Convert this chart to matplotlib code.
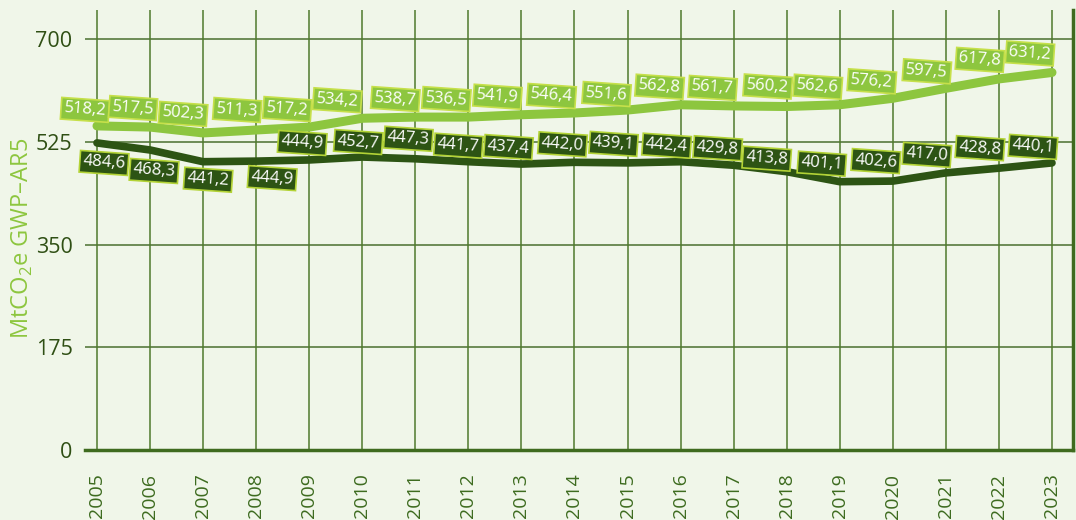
import matplotlib.pyplot as plt

plt.rcParams['font.family'] = ['Open Sans', 'DejaVu Sans']
plt.rcParams['mathtext.fontset'] = 'custom'
plt.rcParams['mathtext.rm'] = 'Open Sans'

years = list(range(2005, 2024))
# line values (MtCO2e) as drawn
light_vals = [552, 550, 540, 545, 550, 565, 567, 567, 571, 574, 579, 588, 586, 585, 588, 599, 616, 632, 643]
dark_vals = [523, 511, 491, 492, 494, 499, 496, 491, 487, 490, 489, 491, 485, 474, 457, 458, 472, 480, 489]
# printed labels
light_labels = ["518,2", "517,5", "502,3", "511,3", "517,2", "534,2", "538,7", "536,5", "541,9", "546,4",
                "551,6", "562,8", "561,7", "560,2", "562,6", "576,2", "597,5", "617,8", "631,2"]
dark_labels = ["484,6", "468,3", "441,2", "444,9", "444,9", "452,7", "447,3", "441,7", "437,4", "442,0",
               "439,1", "442,4", "429,8", "413,8", "401,1", "402,6", "417,0", "428,8", "440,1"]

# label offsets in pixels from each point
light_dx = [-12, -17, -20, -19, -22, -25, -20, -22, -24, -23, -21, -21, -21, -19, -22, -21, -19, -19, -22]
light_dy = [16, 19, 19, 20, 18, 18, 18, 18, 18, 17, 16, 18, 18, 20, 18, 17, 17, 19, 19]
dark_dx = [7, 4, 5, 16, -7, -4, -7, -10, -13, -12, -14, -14, -16, -20, -18, -17, -19, -19, -19]
dark_dy = [-20, -21, -18, -17, 17, 15, 20, 16, 17, 18, 19, 16, 17, 13, 18, 20, 18, 20, 16]

LIGHT = '#8dc63f'
DARK = '#2d5414'
GRID = '#4f7a2c'
BG = '#f0f6e9'

fig = plt.figure(figsize=(10.76, 5.2), dpi=100, facecolor=BG)
ax = fig.add_axes([85 / 1076, 70 / 520, 988 / 1076, 440 / 520], facecolor=BG)

ax.set_xlim(2004.774, 2023.396)
ax.set_ylim(0, 749.4)

for y in [175, 350, 525, 700]:
    ax.axhline(y, color='#6d8c56', lw=1.4, zorder=1)
for x in years:
    ax.axvline(x, color=GRID, lw=1.1, zorder=1)

ax.plot(years, light_vals, color=LIGHT, lw=6.5, solid_capstyle='round', solid_joinstyle='round', zorder=3)
ax.plot(years, dark_vals, color=DARK, lw=5.5, solid_capstyle='round', solid_joinstyle='round', zorder=3)

for x, v, t, dx, dy in zip(years, light_vals, light_labels, light_dx, light_dy):
    ax.annotate(t, (x, v), xytext=(dx, dy), textcoords='offset pixels', ha='center', va='center',
                fontsize=12, color='white', rotation=-4, zorder=5,
                bbox=dict(boxstyle='square,pad=0.17', fc=LIGHT, ec='#c6e04a', lw=1.2))
for x, v, t, dx, dy in zip(years, dark_vals, dark_labels, dark_dx, dark_dy):
    ax.annotate(t, (x, v), xytext=(dx, dy), textcoords='offset pixels', ha='center', va='center',
                fontsize=12, color='white', rotation=-4, zorder=5,
                bbox=dict(boxstyle='square,pad=0.17', fc=DARK, ec='#b3d336', lw=1.2))

for s in ['top', 'left']:
    ax.spines[s].set_visible(False)
ax.spines['bottom'].set_color('#3f6b1f')
ax.spines['bottom'].set_linewidth(2.5)
ax.spines['right'].set_color('#3f6b1f')
ax.spines['right'].set_linewidth(2.5)

ax.set_yticks([0, 175, 350, 525, 700])
ax.set_xticks(years)
ax.set_xticklabels([str(y) for y in years], rotation=90)
ax.tick_params(axis='y', length=0, pad=9, labelsize=15.5, labelcolor='#2f4f14')
ax.tick_params(axis='x', length=0, pad=17, labelsize=14, labelcolor='#3d6b1f')
for lab in ax.get_xticklabels():
    lab.set_verticalalignment('top')

ax.set_ylabel('MtCO$_2$e GWP–AR5', color=LIGHT, fontsize=17)
ax.yaxis.set_label_coords(-0.0506, 0.482)

fig.savefig('out.png', dpi=100, facecolor=BG)
